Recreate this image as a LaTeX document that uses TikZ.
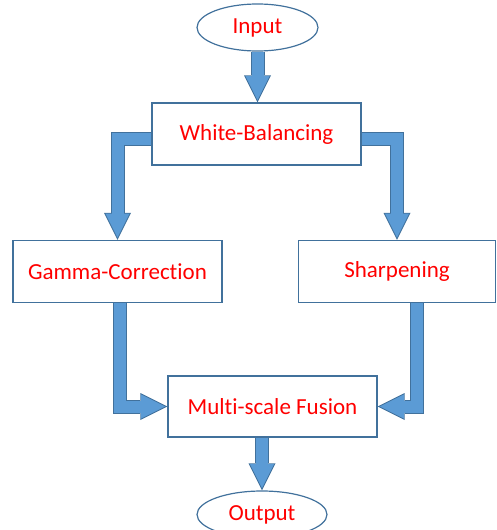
\documentclass[tikz,border=0pt]{standalone}
\usepackage{fontspec}
\setmainfont{Carlito}[Ligatures=NoCommon]
\usetikzlibrary{shapes.geometric,arrows.meta}
\definecolor{flowblue}{HTML}{5B9BD5}
\definecolor{flowedge}{HTML}{41719C}
\definecolor{boxedge}{HTML}{41719C}

\begin{document}
\begin{tikzpicture}[
        x=1pt, y=-1pt,
        every node/.style={draw=boxedge, line width=1.2pt, fill=white, text=red,
            font=\fontsize{23}{27}\selectfont, inner sep=2pt},
        stage/.style={rectangle, minimum height=62pt},
        terminal/.style={ellipse, minimum width=121pt, minimum height=47pt}
    ]
    \useasboundingbox (0,0) rectangle (497,530);

    \node[terminal] (input) at (257.5,27.5) {Input};
    \node[stage, minimum width=209pt] (balance) at (256.5,134) {White-Balancing};
    \node[stage, minimum width=209pt] (gamma) at (117.5,271.5) {Gamma-Correction};
    \node[stage, minimum width=197pt] (sharpen) at (397,271.5) {Sharpening};
    \node[stage, minimum width=209pt, minimum height=61pt] (fusion) at (272.5,406.5) {Multi-scale Fusion};
    \node[terminal, minimum width=130pt] (output) at (262,514.5) {Output};

    % outline pass first, then the blue body
    \foreach \lw/\tip/\cut/\col in {14/27/0/flowedge, 12/24/2.2/flowblue} {
        \draw[line width=\lw pt, draw=\col, shorten >=\cut pt,
              -{Triangle[width=\tip pt, length=\tip pt, line width=0pt]}]
            (input.south) -- (input.south |- balance.north);
        \draw[line width=\lw pt, draw=\col, shorten >=\cut pt,
              -{Triangle[width=\tip pt, length=\tip pt, line width=0pt]}]
            ([yshift=-4.5pt]balance.west) -| (gamma.north);
        \draw[line width=\lw pt, draw=\col, shorten >=\cut pt,
              -{Triangle[width=\tip pt, length=\tip pt, line width=0pt]}]
            ([yshift=-4.5pt]balance.east) -| (sharpen.north);
        \draw[line width=\lw pt, draw=\col, shorten >=\cut pt,
              -{Triangle[width=\tip pt, length=\tip pt, line width=0pt]}]
            ([xshift=2pt]gamma.south) |- (fusion.west);
        \draw[line width=\lw pt, draw=\col, shorten >=\cut pt,
              -{Triangle[width=\tip pt, length=\tip pt, line width=0pt]}]
            ([xshift=20pt]sharpen.south) |- (fusion.east);
        \draw[line width=\lw pt, draw=\col, shorten >=\cut pt,
              -{Triangle[width=\tip pt, length=\tip pt, line width=0pt]}]
            (fusion.south -| output.north) -- (output.north);
    }
\end{tikzpicture}
\end{document}
